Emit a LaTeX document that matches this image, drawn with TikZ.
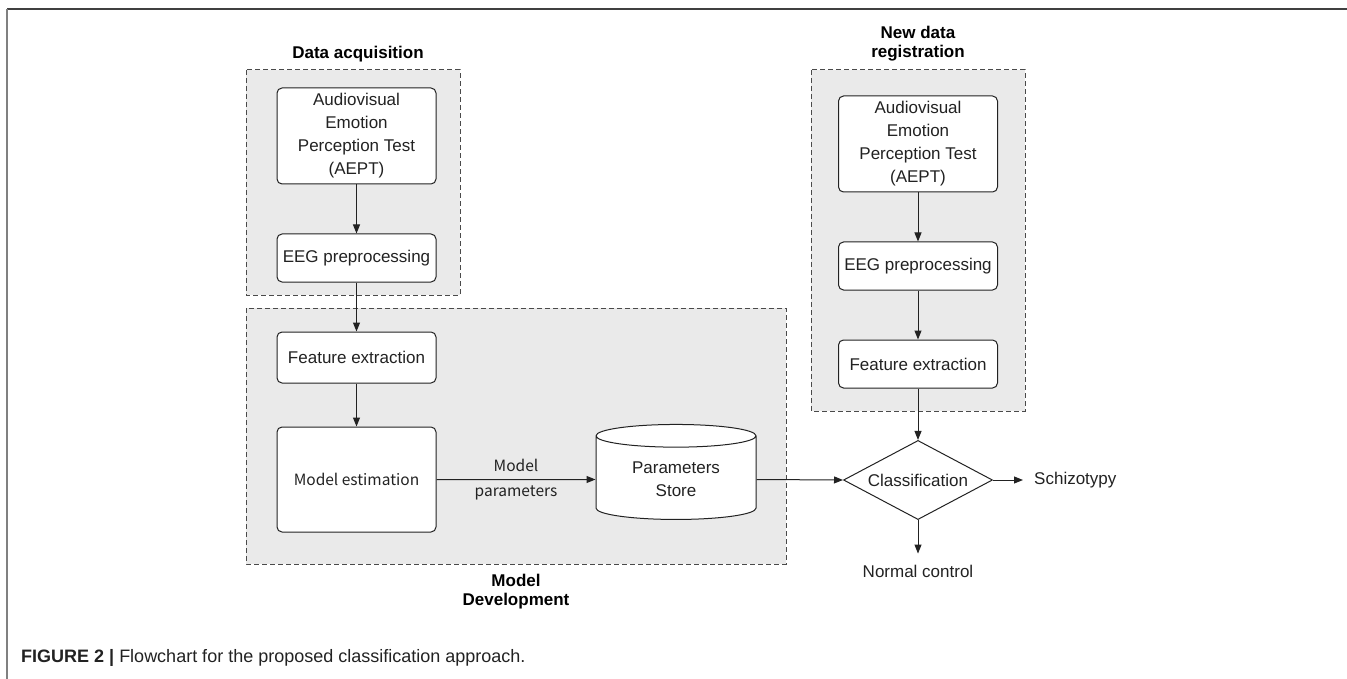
\documentclass[tikz,border=0pt]{standalone}
\usepackage{fontspec}
\setmainfont{Liberation Sans}
\newfontfamily\krfont{Noto Sans CJK KR}
\usetikzlibrary{shapes.geometric,arrows.meta}
\definecolor{panelgray}{HTML}{EAEAEA}
\definecolor{dashgray}{HTML}{4A4A4A}
\definecolor{inkgray}{HTML}{222222}
\begin{document}
\begin{tikzpicture}[x=1pt,y=-1pt,
    every node/.style={font=\fontsize{17}{23}\selectfont, text=inkgray},
    panel/.style={draw=dashgray, fill=panelgray, dash pattern=on 5pt off 3pt, line width=1pt},
    stepbox/.style={draw=inkgray, fill=white, rounded corners=5pt, line width=1pt, minimum width=159pt, align=center, inner sep=2pt},
    title/.style={font=\bfseries\fontsize{17}{19}\selectfont, align=center, text=black},
    outcome/.style={inner sep=11pt},
    link/.style={draw=inkgray, line width=1pt, -{Triangle[length=9pt,width=7pt]}}]
\useasboundingbox (0,0) rectangle (1347,679);
\draw[line width=2pt, draw=black!75] (7,9) -- (1347,9);
\draw[line width=1.5pt, draw=black!50] (7,9) -- (7,679);

\draw[panel] (246,70) rectangle (460,295);
\draw[panel] (246,308) rectangle (786,564);
\draw[panel] (811,70) rectangle (1025,411);

\node[title] (acqtitle) at (358,54) {Data acquisition};
\node[title] (newtitle) at (918,44) {New data\\registration};
\node[title] (devtitle) at (516,592) {Model\\Development};

\node[stepbox, minimum height=96pt] (aept) at (356.5,136) {Audiovisual\\Emotion\\Perception Test\\(AEPT)};
\node[stepbox, minimum height=48pt] (eeg) at (356.5,258) {EEG preprocessing};
\node[stepbox, minimum height=51pt] (feat) at (356.5,357.5) {Feature extraction};
\node[stepbox, minimum height=105pt, font=\krfont\fontsize{15.5}{25}\selectfont] (estim) at (356.5,479.5) {Model estimation};
\node[cylinder, shape border rotate=90, aspect=0.24, draw=inkgray, fill=white, line width=1pt, minimum width=160pt, minimum height=95pt, align=center] (store) at (676,479.5) {Parameters\\Store};

\node[stepbox, minimum height=96pt] (aeptb) at (918,144) {Audiovisual\\Emotion\\Perception Test\\(AEPT)};
\node[stepbox, minimum height=48pt] (eegb) at (918,266) {EEG preprocessing};
\node[stepbox, minimum height=48pt] (featb) at (918,364) {Feature extraction};
\node[diamond, aspect=1.75, draw=inkgray, fill=white, line width=1pt, minimum width=149pt, inner sep=3pt] (cls) at (918,480) {Classification};
\node[outcome, anchor=west] (schizo) at (1023,480) {Schizotypy};
\node[outcome] (normal) at (918,571) {Normal control};

\draw[link] (aept) -- (eeg);
\draw[link] (eeg) -- (feat);
\draw[link] (feat) -- (estim);
\draw[link] (estim.east) -- node[midway, align=center, font=\krfont\fontsize{15.5}{25}\selectfont] {Model\\parameters} (store.west);
\draw[link] (store.east) -- (cls.west);
\draw[link] (aeptb) -- (eegb);
\draw[link] (eegb) -- (featb);
\draw[link] (featb) -- (cls);
\draw[link] (cls) -- (schizo);
\draw[link] (cls) -- (normal);

\node[anchor=west, inner sep=0pt, font=\fontsize{18}{20}\selectfont] (caption) at (21,658) {\textbf{FIGURE 2 |} Flowchart for the proposed classification approach.};
\end{tikzpicture}
\end{document}
